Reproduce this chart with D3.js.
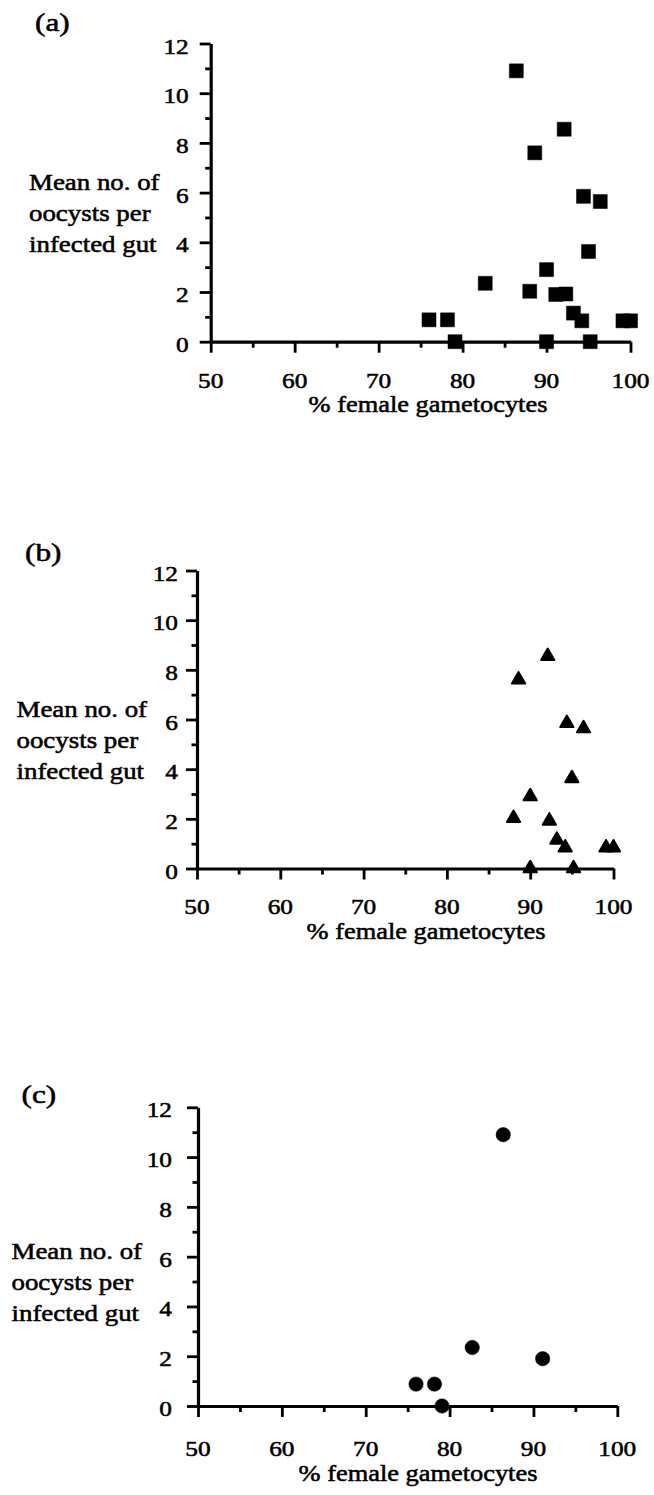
<!DOCTYPE html>
<html>
<head>
<meta charset="utf-8">
<script src="https://cdn.jsdelivr.net/npm/d3@7"></script>
<style>
  html, body { margin: 0; padding: 0; background: #fff; }
  svg { display: block; }
  text { font-family: "Liberation Serif", "Times New Roman", serif; fill: #000; }
</style>
</head>
<body>
<svg id="chart" width="654" height="1495"></svg>
<script>
// ---- data ----
// panel (b): subset plotted with triangles
const panelBX = [92.1, 88.6, 94.4, 96.4, 95.0, 90.0, 88.0, 92.3, 93.2, 94.2, 99.1, 100.0, 90.0, 95.2];
const panelBY = [8.55, 7.6, 5.85, 5.64, 3.63, 2.9, 2.03, 1.92, 1.15, 0.84, 0.84, 0.84, 0, 0];
// panel (c): subset plotted with circles
const panelCX = [76.0, 78.2, 79.1, 82.7, 86.4, 91.1];
const panelCY = [0.88, 0.88, 0, 2.35, 10.9, 1.9];
// panel (a): all infections (b and c together) plotted with squares
const panelAX = panelBX.concat(panelCX);
const panelAY = panelBY.concat(panelCY);

const xMajorTicks = [50, 60, 70, 80, 90, 100];
const xMinorTicks = [55, 65, 75, 85, 95];
const yMajorTicks = [0, 2, 4, 6, 8, 10, 12];
const yMinorTicks = [1, 3, 5, 7, 9, 11];
const panelTags = ["(a)", "(b)", "(c)"];
const yLabelLines = ["Mean no. of", "oocysts per", "infected gut"];
const xTitle = "% female gametocytes";

// ---- layout ----
const panels = [
  { tag: panelTags[0], xs: panelAX, ys: panelAY, shape: "square",
    xL: 210.7, xR: 630.5, yTop: 43.5, yZero: 341.7, labGap: 19,
    tickLabDy: 46.6, titleX: 428, titleDy: 70,
    tagX: 35, tagY: 31, ylabX: 29, ylabY: 190 },
  { tag: panelTags[1], xs: panelBX, ys: panelBY, shape: "triangle",
    xL: 197, xR: 613.5, yTop: 570.5, yZero: 868.5, labGap: 16,
    tickLabDy: 45.5, titleX: 426, titleDy: 70,
    tagX: 25, tagY: 561, ylabX: 16.5, ylabY: 717 },
  { tag: panelTags[2], xs: panelCX, ys: panelCY, shape: "circle",
    xL: 198, xR: 617.3, yTop: 1107.3, yZero: 1406, labGap: 23,
    tickLabDy: 50, titleX: 418, titleDy: 75,
    tagX: 21.5, tagY: 1103, ylabX: 11.5, ylabY: 1259 }
];

const svg = d3.select("#chart");
const SX = 1.15; // horizontal stretch of the scanned type

function stretchedText(g, x, y, str, size, anchor, sx) {
  return g.append("text")
    .attr("transform", `translate(${x},${y}) scale(${sx},1)`)
    .attr("text-anchor", anchor)
    .attr("font-family", "Liberation Serif, Times New Roman, serif")
    .style("font-size", size + "px")
    .style("stroke", "#000").style("stroke-width", 0.55)
    .text(str);
}

panels.forEach(p => {
  const x = d3.scaleLinear().domain([50, 100]).range([p.xL, p.xR]);
  const y = d3.scaleLinear().domain([0, 12]).range([p.yZero, p.yTop]);
  const g = svg.append("g");

  // x axis (major + minor)
  const xg = g.append("g").attr("transform", `translate(0,${p.yZero})`);
  xg.call(d3.axisBottom(x).tickValues(xMajorTicks).tickSize(11).tickSizeOuter(0).tickFormat(""));
  const xm = g.append("g").attr("transform", `translate(0,${p.yZero})`);
  xm.call(d3.axisBottom(x).tickValues(xMinorTicks).tickSize(6).tickSizeOuter(0).tickFormat(""));
  xm.select(".domain").remove();

  // y axis (major + minor)
  const yg = g.append("g").attr("transform", `translate(${p.xL},0)`);
  yg.call(d3.axisLeft(y).tickValues(yMajorTicks).tickSize(11).tickSizeOuter(0).tickFormat(""));
  const ym = g.append("g").attr("transform", `translate(${p.xL},0)`);
  ym.call(d3.axisLeft(y).tickValues(yMinorTicks).tickSize(5.5).tickSizeOuter(0).tickFormat(""));
  ym.select(".domain").remove();

  g.selectAll(".domain").attr("stroke", "#000").attr("stroke-width", 3.2);
  g.selectAll(".tick line").attr("stroke", "#000").attr("stroke-width", 2.8);

  // tick labels
  xMajorTicks.forEach(v => {
    stretchedText(g, x(v), p.yZero + p.tickLabDy, String(v), 22, "middle", SX);
  });
  yMajorTicks.forEach(v => {
    stretchedText(g, p.xL - 11 - p.labGap + 8, y(v) + 10, String(v), 22, "end", SX);
  });

  // titles
  stretchedText(g, p.titleX, p.yZero + p.titleDy, xTitle, 24, "middle", 1.1);
  yLabelLines.forEach((t, i) => {
    stretchedText(g, p.ylabX, p.ylabY + i * 31, t, 24, "start", 1.12);
  });
  stretchedText(g, p.tagX, p.tagY, p.tag, 26, "start", 1.2);

  // markers
  const pts = p.xs.map((v, i) => [v, p.ys[i]]);
  let sym, size;
  if (p.shape === "square") { sym = d3.symbolSquare; size = 14 * 14; }
  else if (p.shape === "triangle") { sym = d3.symbolTriangle; size = 76; }
  else { sym = d3.symbolCircle; size = Math.PI * 7.2 * 7.2; }
  g.append("g").selectAll("path").data(pts).join("path")
    .attr("transform", d => `translate(${x(d[0])},${y(d[1])})`)
    .attr("d", d3.symbol().type(sym).size(size))
    .attr("fill", "#000")
    .attr("stroke", "#000")
    .attr("stroke-width", p.shape === "triangle" ? 2 : 0.5)
    .attr("stroke-linejoin", "round");
});
</script>
</body>
</html>
